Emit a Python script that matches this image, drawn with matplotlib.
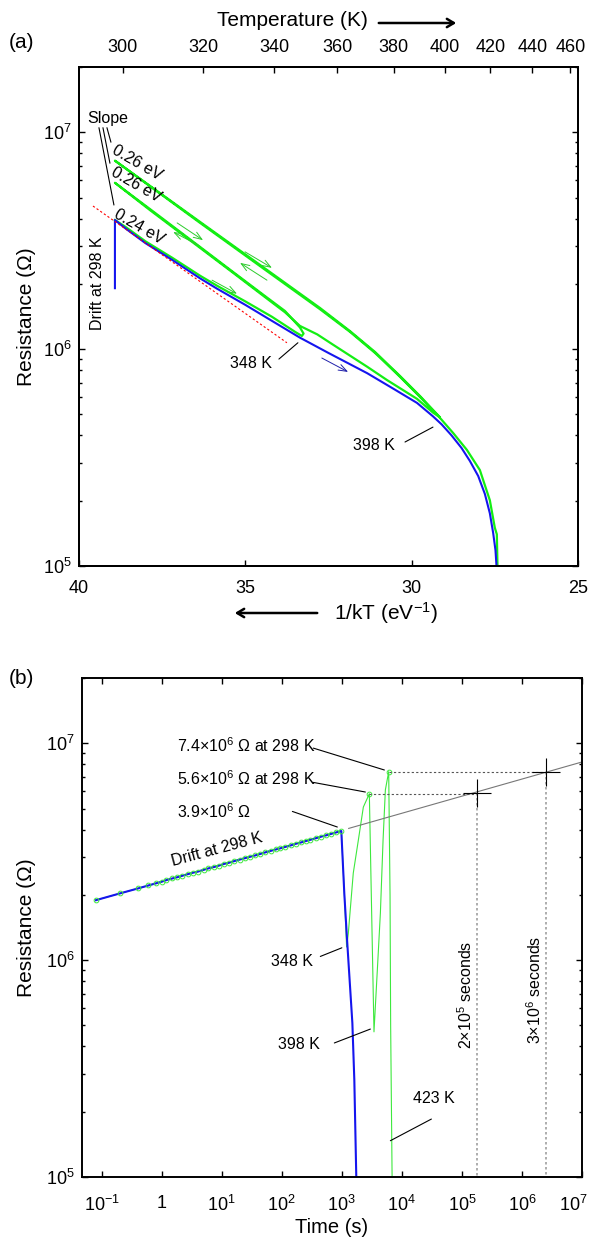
import matplotlib.pyplot as plt
from matplotlib.patches import FancyArrowPatch
from matplotlib.transforms import ScaledTranslation
from matplotlib.ticker import LogLocator, NullFormatter

plt.rcParams['font.family'] = ['Liberation Sans', 'DejaVu Sans']
plt.rcParams['mathtext.fontset'] = 'custom'
plt.rcParams['mathtext.rm'] = 'Liberation Sans'
plt.rcParams['mathtext.it'] = 'Liberation Sans:italic'
plt.rcParams['mathtext.bf'] = 'Liberation Sans:bold'

K_B = 8.617e-5  # eV/K

# ---- panel (a): resistance vs 1/kT ----
blue_a_x = [38.92, 38.92, 38.6, 38.0, 37.2, 36.36, 35.85, 35.0, 34.2, 33.36, 32.5,
            31.34, 30.5, 29.84, 29.36, 29.1, 28.8, 28.5, 28.25, 28.0, 27.8, 27.65, 27.55,
            27.48, 27.45, 27.44]
blue_a_r = [1.91e6, 3.94e6, 3.6e6, 3.08e6, 2.58e6, 2.12e6, 1.9e6, 1.6e6, 1.35e6, 1.13e6, 9.6e5,
            7.75e5, 6.5e5, 5.65e5, 4.9e5, 4.5e5, 4.0e5, 3.5e5, 3.05e5, 2.6e5, 2.15e5, 1.75e5, 1.42e5,
            1.18e5, 1.0e5, 0.9e5]

# green: heat to 348 K, cool, heat to 398 K, cool, heat to 423 K
green_a_x = [38.92, 38.6, 38.0, 37.2, 36.36, 35.85, 35.0, 34.2, 33.5, 33.3, 33.25, 33.36,
             33.81, 34.35, 35.37, 36.36, 37.87, 38.92,
             37.87, 36.36, 35.37, 34.35, 33.81, 33.36, 32.84, 32.37, 31.34, 30.74, 29.84, 29.36, 29.15,
             29.75, 30.35, 31.10, 31.85, 32.76, 34.35, 36.36, 38.92,
             36.36, 34.35, 32.76, 31.85, 31.10, 30.35, 29.75, 29.15, 28.75, 28.34, 27.95, 27.65,
             27.5, 27.44, 27.42, 27.42]
green_a_r = [3.94e6, 3.66e6, 3.14e6, 2.64e6, 2.18e6, 1.96e6, 1.66e6, 1.41e6, 1.2e6, 1.15e6, 1.18e6, 1.26e6,
             1.50e6, 1.73e6, 2.27e6, 2.96e6, 4.43e6, 5.85e6,
             4.38e6, 2.93e6, 2.25e6, 1.71e6, 1.48e6, 1.28e6, 1.17e6, 1.05e6, 8.3e5, 7.2e5, 5.9e5, 5.1e5, 4.85e5,
             6.08e5, 7.52e5, 9.7e5, 1.21e6, 1.55e6, 2.32e6, 3.86e6, 7.4e6,
             3.82e6, 2.29e6, 1.53e6, 1.20e6, 9.6e5, 7.45e5, 6.02e5, 4.82e5, 4.1e5, 3.43e5, 2.77e5, 2.01e5,
             1.5e5, 1.4e5, 1.0e5, 0.9e5]

fit_x = [39.58, 33.75]
fit_r = [4.57e6, 1.07e6]

temp_ticks = [300, 320, 340, 360, 380, 400, 420, 440, 460]

# ---- panel (b): resistance vs time ----
drift_t = [0.08, 0.2, 0.4, 0.6, 0.8, 1.0, 1.2, 1.5, 1.8, 2.2, 2.7, 3.3, 4, 5, 6, 7.5, 9, 11, 13, 16,
           20, 24, 30, 36, 44, 53, 65, 80, 95, 115, 140, 170, 210, 250, 300, 370, 450, 540, 660,
           800, 980]
drift_r = [1.89e6, 2.03e6, 2.14e6, 2.21e6, 2.26e6, 2.30e6, 2.34e6, 2.38e6, 2.41e6, 2.45e6, 2.49e6,
           2.53e6, 2.56e6, 2.61e6, 2.65e6, 2.69e6, 2.73e6, 2.78e6, 2.81e6, 2.86e6, 2.91e6, 2.95e6,
           3.00e6, 3.04e6, 3.09e6, 3.14e6, 3.19e6, 3.24e6, 3.28e6, 3.33e6, 3.38e6, 3.44e6, 3.49e6,
           3.54e6, 3.59e6, 3.65e6, 3.71e6, 3.76e6, 3.82e6, 3.88e6, 3.94e6]

blue_drop_t = [1100, 1222, 1497, 1614, 1740, 1760]
blue_drop_r = [2.02e6, 1.24e6, 5.13e5, 2.8e5, 1.0e5, 0.9e5]

green_cycle_t = [1100, 1200, 1282, 1550, 1884, 2281, 2870, 3430, 3900, 4385, 4860, 5310, 6030,
                 6350, 6500, 6870, 6900]
green_cycle_r = [2.05e6, 1.15e6, 1.33e6, 2.52e6, 3.58e6, 5.08e6, 5.85e6, 4.67e5, 9.0e5, 1.65e6,
                 3.58e6, 6.1e6, 7.4e6, 2.0e6, 5.0e5, 1.0e5, 0.9e5]

peak_t = [980, 2870, 6030]
peak_r = [3.94e6, 5.85e6, 7.4e6]

ext_t = [1300, 1e7]
ext_r = [4.05e6, 8.2e6]

cross_t = [1.75e5, 2.5e6]
cross_r = [5.9e6, 7.4e6]

time_ticks = [0.1, 1, 10, 100, 1e3, 1e4, 1e5, 1e6, 1e7]
time_labels = [r'$\mathregular{10^{-1}}$', '1', r'$\mathregular{10^{1}}$', r'$\mathregular{10^{2}}$',
               r'$\mathregular{10^{3}}$', r'$\mathregular{10^{4}}$', r'$\mathregular{10^{5}}$',
               r'$\mathregular{10^{6}}$', r'$\mathregular{10^{7}}$']

GREEN = '#14ee14'
BLUE = '#1515ee'
R_LIM = (1e5, 2e7)


def style_log_y(ax):
    ax.set_yscale('log')
    ax.set_ylim(*R_LIM)
    ax.set_yticks([1e5, 1e6, 1e7])
    ax.set_yticklabels([r'$\mathregular{10^{5}}$', r'$\mathregular{10^{6}}$', r'$\mathregular{10^{7}}$'])
    ax.yaxis.set_minor_locator(LogLocator(base=10, subs=range(2, 10), numticks=20))
    ax.yaxis.set_minor_formatter(NullFormatter())
    for s in ax.spines.values():
        s.set_linewidth(1.4)
    ax.tick_params(which='both', direction='in', right=True, width=1)
    ax.tick_params(which='major', length=4, labelsize=13)
    ax.tick_params(which='minor', length=2.5)
    ax.tick_params(axis='y', pad=5)
    ax.set_ylabel('Resistance (Ω)', fontsize=15)


def leader(ax, p0, p1):
    ax.annotate('', xy=p1, xytext=p0,
                arrowprops=dict(arrowstyle='-', lw=0.8, color='black', shrinkA=0, shrinkB=0))


def small_arrow(ax, p0, p1, color):
    ax.annotate('', xy=p1, xytext=p0,
                arrowprops=dict(arrowstyle='->,head_length=0.6,head_width=0.22', lw=0.7,
                                color=color, shrinkA=0, shrinkB=0))


def fig_arrow(fig, x0, x1, y):
    # direction arrow next to an axis title, given in figure pixels
    fig.patches.append(FancyArrowPatch(
        (x0 / 591, 1 - y / 1241), (x1 / 591, 1 - y / 1241), transform=fig.transFigure,
        arrowstyle='->,head_length=5,head_width=3', lw=1.8, color='black'))


fig = plt.figure(figsize=(5.91, 12.41), dpi=100)
ax_a = fig.add_axes([79 / 591, 1 - 566 / 1241, 499 / 591, 499 / 1241])
ax_b = fig.add_axes([82 / 591, 1 - 1177 / 1241, 500 / 591, 499 / 1241])

# ---------------- (a) ----------------
ax_a.plot(green_a_x, green_a_r, color=GREEN, lw=1.6)
ax_a.plot(blue_a_x, blue_a_r, color=BLUE, lw=1.5)
ax_a.plot(fit_x, fit_r, color='red', lw=0.8, ls=(0, (2, 2)))
ax_a.set_xlim(40, 25)
style_log_y(ax_a)
ax_a.set_xticks([40, 35, 30, 25])
ax_a.tick_params(axis='x', top=False, pad=10)
ax_a.yaxis.set_label_coords(-0.086, 0.5)

ax_t = ax_a.twiny()
ax_t.set_xlim(40, 25)
ax_t.set_xticks([1 / (K_B * t) for t in temp_ticks])
ax_t.set_xticklabels([str(t) for t in temp_ticks])
ax_t.tick_params(direction='in', length=4, width=1, labelsize=13, pad=8)
for s in ax_t.spines.values():
    s.set_linewidth(1.4)

# arrows along curves
small_arrow(ax_a, (37.05, 3.82e6), (36.27, 3.18e6), '#2ccc2c')
small_arrow(ax_a, (36.42, 3.02e6), (37.17, 3.47e6), '#2ccc2c')
small_arrow(ax_a, (35.01, 2.81e6), (34.20, 2.37e6), '#2ccc2c')
small_arrow(ax_a, (34.35, 2.08e6), (35.16, 2.50e6), '#2ccc2c')
small_arrow(ax_a, (36.0, 2.08e6), (35.25, 1.80e6), '#2ccc2c')
small_arrow(ax_a, (32.70, 9.1e5), (31.91, 7.85e5), '#2020aa')

# slope labels
ax_a.text(39.13, 1.16e7, 'Slope', fontsize=11.5, ha='center', va='center')
leader(ax_a, (39.16, 1.05e7), (39.04, 9.0e6))
leader(ax_a, (39.28, 1.05e7), (39.07, 7.2e6))
leader(ax_a, (39.40, 1.05e7), (38.95, 4.62e6))
for xy, txt in [((38.26, 7.2e6), '0.26 eV'), ((38.29, 5.7e6), '0.26 eV'), ((38.20, 3.66e6), '0.24 eV')]:
    ax_a.text(xy[0], xy[1], txt, fontsize=11.5, rotation=-30, ha='center', va='center',
              rotation_mode='anchor')
ax_a.text(39.43, 2.02e6, 'Drift at 298 K', fontsize=11.5, rotation=90, ha='center', va='center')
ax_a.text(34.83, 8.63e5, '348 K', fontsize=11.5, ha='center', va='center')
leader(ax_a, (33.99, 9.0e5), (33.42, 1.07e6))
ax_a.text(31.13, 3.61e5, '398 K', fontsize=11.5, ha='center', va='center')
leader(ax_a, (30.20, 3.73e5), (29.36, 4.37e5))

# axis titles with direction arrows
fig.text(292 / 591, 1 - 21 / 1241, 'Temperature (K)', fontsize=15, ha='center', va='center')
fig_arrow(fig, 376, 459, 23)
fig.text(386 / 591, 1 - 613 / 1241, r'1/kT ($\mathregular{eV^{-1}}$)', fontsize=15,
         ha='center', va='center')
fig_arrow(fig, 320, 232, 613)
fig.text(21 / 591, 1 - 43 / 1241, '(a)', fontsize=15, ha='center', va='center')

# ---------------- (b) ----------------
ax_b.plot(drift_t + green_cycle_t, drift_r + green_cycle_r, color='#3ee83e', lw=0.8)
ax_b.plot(drift_t + blue_drop_t, drift_r + blue_drop_r, color=BLUE, lw=1.5)
ax_b.plot(drift_t + peak_t[1:], drift_r + peak_r[1:], ls='none', marker='o', ms=3.4,
          mfc='none', mec='#3ee83e', mew=0.7)
ax_b.plot(ext_t, ext_r, color='#777777', lw=0.8)
for t0, r0, t1 in zip(peak_t[1:], peak_r[1:], cross_t):
    ax_b.plot([t0, t1], [r0, r0], color='#555555', lw=0.8, ls=(0, (2, 2)))
for t1, r1 in zip(cross_t, cross_r):
    ax_b.plot([t1, t1], [r1, R_LIM[0]], color='#a0a0a0', lw=1.2, ls=(0, (1.5, 1.5)))
ax_b.plot(cross_t, cross_r, ls='none', marker='+', ms=20, mew=0.8, color='black')

ax_b.set_xscale('log')
ax_b.set_xlim(0.047, 1e7)
style_log_y(ax_b)
ax_b.set_xticks(time_ticks)
ax_b.set_xticklabels(time_labels)
ax_b.xaxis.set_minor_locator(plt.NullLocator())
ax_b.tick_params(axis='x', top=True, pad=13)
last = ax_b.get_xticklabels()[-1]
last.set_transform(last.get_transform() + ScaledTranslation(-6 / 72, 0, fig.dpi_scale_trans))
ax_b.set_xlabel('Time (s)', fontsize=14.5)
ax_b.xaxis.set_label_coords(0.5, -0.082)
ax_b.yaxis.set_label_coords(-0.092, 0.5)

ax_b.text(1.81, 9.8e6, r'7.4×$\mathregular{10^{6}}$ Ω at 298 K', fontsize=11.5, ha='left', va='center')
leader(ax_b, (335, 9.5e6), (5110, 7.53e6))
ax_b.text(1.81, 6.84e6, r'5.6×$\mathregular{10^{6}}$ Ω at 298 K', fontsize=11.5, ha='left', va='center')
leader(ax_b, (335, 6.6e6), (2465, 5.96e6))
ax_b.text(1.81, 4.82e6, r'3.9×$\mathregular{10^{6}}$ Ω', fontsize=11.5, ha='left', va='center')
leader(ax_b, (150, 4.85e6), (841, 4.11e6))
ax_b.text(8.4, 3.22e6, 'Drift at 298 K', fontsize=11.5, rotation=15, ha='center', va='center',
          rotation_mode='anchor')
ax_b.text(150, 9.9e5, '348 K', fontsize=11.5, ha='center', va='center')
leader(ax_b, (438, 1.04e6), (1000, 1.14e6))
ax_b.text(196, 4.07e5, '398 K', fontsize=11.5, ha='center', va='center')
leader(ax_b, (750, 4.15e5), (2985, 4.81e5))
ax_b.text(3.35e4, 2.29e5, '423 K', fontsize=11.5, ha='center', va='center')
leader(ax_b, (3.1e4, 1.85e5), (6430, 1.47e5))
ax_b.text(1.14e5, 6.9e5, r'2×$\mathregular{10^{5}}$ seconds', fontsize=11.5, rotation=90,
          ha='center', va='center')
ax_b.text(1.61e6, 7.3e5, r'3×$\mathregular{10^{6}}$ seconds', fontsize=11.5, rotation=90,
          ha='center', va='center')
fig.text(21 / 591, 1 - 678 / 1241, '(b)', fontsize=15, ha='center', va='center')

fig.savefig('out.png', dpi=100)
